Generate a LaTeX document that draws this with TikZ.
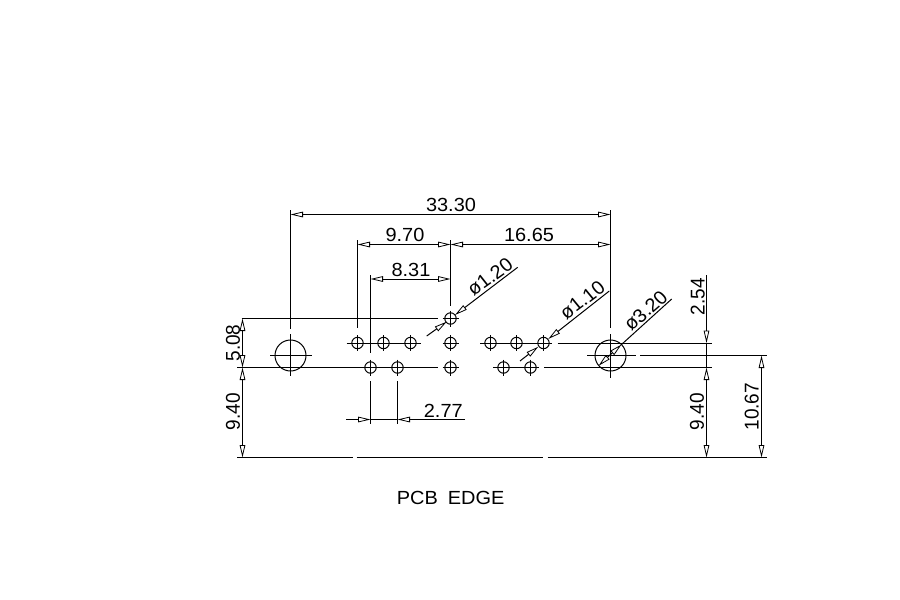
\documentclass[tikz,border=0pt]{standalone}
\usepackage{fontspec}
\setmainfont{Liberation Sans}
\usetikzlibrary{arrows.meta}
\tikzset{
  ln/.style={line width=1pt,black},
  dim/.style={ln,{Triangle[open,length=12.5pt,width=5.6pt,line width=0.8pt]}-{Triangle[open,length=12.5pt,width=5.6pt,line width=0.8pt]}},
  tipend/.style={ln,-{Triangle[open,length=12.5pt,width=5.6pt,line width=0.8pt]}},
  lbl/.style={inner sep=0pt,font=\fontsize{19}{19}\selectfont,xscale=1.05},
  hole/.style={draw,ln,circle,inner sep=0pt,minimum size=11.4pt},
  bighole/.style={draw,ln,circle,inner sep=0pt,minimum size=31pt}
}
\begin{document}
\begin{tikzpicture}[x=1pt,y=-1pt]
\useasboundingbox[fill=white] (0,0) rectangle (900,600);
% holes
\foreach \n/\x/\y in {a/357.5/343,b/383.5/343,c/410.5/343,d/370.5/367.5,e/397.5/367.5,
  f/450.5/318.5,g/450.5/343,h/450.5/367.5,i/490.5/343,j/516.5/343,k/543.5/343,l/503.5/367.5,m/530.5/367.5}{
  \node[hole] (\n) at (\x,\y) {};
  \draw[ln] (\x-8,\y) -- (\x+8,\y) (\x,\y-8) -- (\x,\y+8);
}
\node[bighole] (L) at (290.5,355.5) {};
\node[bighole] (R) at (610.5,355.5) {};
% key coordinates
\coordinate (t1) at (290.5,214.5); \coordinate (t2) at (610.5,214.5);
\coordinate (u1) at (357.5,244.5); \coordinate (u2) at (450.5,244.5); \coordinate (u3) at (610.5,244.5);
\coordinate (v1) at (370.5,279); \coordinate (v2) at (450.5,279);
\coordinate (lt) at (242.5,318.5); \coordinate (lm) at (242.5,367.5); \coordinate (lb) at (242.5,457.5);
\coordinate (rt) at (706.5,343); \coordinate (rm) at (706.5,367.5); \coordinate (rb) at (706.5,457.5);
\coordinate (st) at (761.5,355.5); \coordinate (sb) at (761.5,457.5);
\coordinate (w1) at (370.5,419.5); \coordinate (w2) at (397.5,419.5);
% centre lines and extension lines
\draw[ln] (290.5,210) -- (290.5,329) (290.5,334) -- (290.5,376);
\draw[ln] (270,355.5) -- (311.7,355.5);
\draw[ln] (610.5,210) -- (610.5,328) (610.5,334) -- (610.5,378);
\draw[ln] (587,355.5) -- (636,355.5) (640,355.5) -- (767,355.5);
\draw[ln] (357.5,240) -- (357.5,328);
\draw[ln] (450.5,240) -- (450.5,306);
\draw[ln] (370.5,275) -- (370.5,353);
\draw[ln] (241.7,318.5) -- (438,318.5);
\draw[ln] (237,367.5) -- (438,367.5);
\draw[ln] (346.7,343) -- (420.7,343);
\draw[ln] (480,343) -- (548,343) (557.7,343) -- (711.7,343);
\draw[ln] (493,367.5) -- (536,367.5) (544,367.5) -- (711.7,367.5);
\draw[ln] (237,457.7) -- (352.7,457.7) (356.7,457.7) -- (543,457.7) (547.7,457.7) -- (766.7,457.7);
\draw[ln] (370.5,381) -- (370.5,424) (397.5,381) -- (397.5,424);
% dimensions
\draw[dim] (t1) -- (t2);
\draw[dim] (u1) -- (u2);
\draw[dim] (u2) -- (u3);
\draw[dim] (v1) -- (v2);
\draw[dim] (lt) -- (lm);
\draw[dim] (lm) -- (lb);
\draw[tipend] (706.5,275) -- (rt);
\draw[ln] (rt) -- (rm);
\draw[dim] (rm) -- (rb);
\draw[dim] (st) -- (sb);
\draw[tipend] (346,419.5) -- (w1);
\draw[ln] (w1) -- (w2);
\draw[tipend] (465,419.5) -- (w2);
% diagonal leaders
\draw[tipend] (517.7,267.3) -- (455,315);
\draw[tipend] (426.7,336) -- (446.7,321.7);
\draw[tipend] (609.3,291) -- (548.3,339);
\draw[tipend] (520,361) -- (538.3,346.7);
\draw[ln] (671.7,299) -- (621.5,344.5);
\draw[tipend] (610,355) -- (621.5,344.5);
\draw[tipend] (610,355) -- (598.6,365.8);
% labels
\node[lbl] (n1) at (451,205) {33.30};
\node[lbl] (n2) at (405,235) {9.70};
\node[lbl] (n3) at (529,235) {16.65};
\node[lbl] (n4) at (411,270) {8.31};
\node[lbl] (n5) at (443.3,410.7) {2.77};
\node[lbl,rotate=90] (n6) at (233,343) {5.08};
\node[lbl,rotate=90] (n7) at (233,411.7) {9.40};
\node[lbl,rotate=90] (n8) at (697,411.7) {9.40};
\node[lbl,rotate=90] (n9) at (751.7,406.7) {10.67};
\node[lbl,rotate=90] (n10) at (697.7,296.7) {2.54};
\node[lbl,rotate=37] (n11) at (490,277) {ø1.20};
\node[lbl,rotate=38] (n12) at (582.3,300) {ø1.10};
\node[lbl,rotate=42.5] (n13) at (645.7,310.7) {ø3.20};
\node[lbl] (n14) at (450.7,498.3) {PCB\hspace{0.5em}EDGE};
\end{tikzpicture}
\end{document}
